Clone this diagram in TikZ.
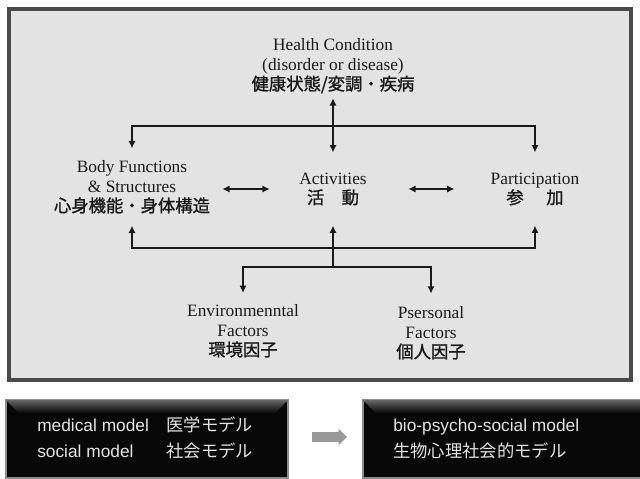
\documentclass[tikz,border=0pt]{standalone}
\usepackage{fontspec}
\setmainfont{Liberation Serif}
\newfontfamily\cjk[FakeBold=1.2]{Noto Sans CJK JP}
\newfontfamily\cjkui{Noto Sans CJK JP}
\newfontfamily\uisans{Liberation Sans}
\usetikzlibrary{arrows.meta,shapes.arrows}
\definecolor{panel}{HTML}{E3E3E3}
\definecolor{frame}{HTML}{4A4A4A}
\definecolor{ink}{HTML}{1A1A1A}
\definecolor{plate}{HTML}{080808}
\definecolor{platetext}{HTML}{E4E4E4}
\begin{document}
\begin{tikzpicture}[x=0.75pt,y=-0.75pt,
  lbl/.style={align=center, inner xsep=0pt, text=ink,
    font=\fontsize{13pt}{14.8pt}\selectfont},
  link/.style={draw=ink, line width=2pt,
    arrows={-Latex[length=5.5pt,width=5.5pt]}},
  both/.style={draw=ink, line width=2pt,
    arrows={Latex[length=5.5pt,width=5.5pt]-Latex[length=5.5pt,width=5.5pt]}},
  plate/.style={fill=plate, draw=black!45, line width=0.8pt},
  bevel/.style={top color=black!60, bottom color=plate},
  platelbl/.style={text=platetext, inner sep=0pt,
    font=\uisans\fontsize{13pt}{20pt}\selectfont},
]
\useasboundingbox (0,0) rectangle (640,479);
\clip (0,0) rectangle (640,479);
\fill[white] (0,0) rectangle (640,479);

% ICF panel
\draw[frame, line width=2.5pt, fill=panel] (9,9) rectangle (631,380);

\node[lbl, inner ysep=3.5pt] (hc) at (333,66)
  {Health Condition\\(disorder or disease)\\{\cjk 健康状態/変調・疾病}};
\node[lbl, inner ysep=9pt] (bf) at (132,187)
  {Body Functions\\\& Structures\\{\cjk 心身機能・身体構造}};
\node[lbl, inner ysep=15pt] (act) at (333,189)
  {Activities\\{\cjk 活\quad 動}};
\node[lbl, inner ysep=15pt] (par) at (535,189)
  {Participation\\{\cjk 参\hspace{1.3em}加}};
\node[lbl, inner ysep=8.5pt] (env) at (243,331)
  {Environmenntal\\Factors\\{\cjk 環境因子}};
\node[lbl, inner ysep=9.5pt] (per) at (431,333)
  {Psersonal\\Factors\\{\cjk 個人因子}};

% junctions of the bracket lines
\coordinate (topbar) at (333,126);
\coordinate (botbar) at (333,248);
\coordinate (fork) at (333,267);

\draw[both] (hc) -- (act);
\draw[link] (topbar) -| (bf.north);
\draw[link] (topbar) -| (par.north);
\draw[link] (botbar) -| (bf.south);
\draw[link] (botbar) -| (par.south);
\draw[link] (fork) -- (act.south);
\draw[link] (fork) -| (env.north);
\draw[link] (fork) -| (per.north);
\draw[both, shorten <=9pt, shorten >=22pt] (bf.east |- act) -- (act.west);
\draw[both, shorten <=31pt, shorten >=27pt] (act.east) -- (par.west);

% model plates with a bevelled top edge
\node[plate, minimum width=211.5pt, minimum height=58.5pt, inner sep=0pt]
  (old) at (147,439) {};
\shade[bevel] ([xshift=0.4pt,yshift=-0.4pt]old.north west)
  -- ([xshift=-0.4pt,yshift=-0.4pt]old.north east)
  -- ([xshift=-10pt,yshift=-10pt]old.north east)
  -- ([xshift=10pt,yshift=-10pt]old.north west) -- cycle;
\node[platelbl, anchor=west] (oldtxt) at (37,439)
  {\begin{tabular}{@{}l@{\hspace{13pt}}l@{}}
    medical model & {\cjkui 医学モデル}\\
    social model & {\cjkui 社会モデル}
   \end{tabular}};

\node[plate, minimum width=252.75pt, minimum height=58.5pt, inner sep=0pt]
  (new) at (531.5,439) {};
\shade[bevel] ([xshift=0.4pt,yshift=-0.4pt]new.north west)
  -- ([xshift=-0.4pt,yshift=-0.4pt]new.north east)
  -- ([xshift=-10pt,yshift=-10pt]new.north east)
  -- ([xshift=10pt,yshift=-10pt]new.north west) -- cycle;
\node[platelbl, anchor=west, align=left] (newtxt) at (393,439)
  {bio-psycho-social model\\{\cjkui 生物心理社会的モデル}};

\node[single arrow, fill=black!40, draw=none, minimum height=26pt,
  minimum width=12pt, single arrow head extend=2.5pt, inner xsep=0pt,
  inner ysep=3.5pt] (shift) at (327,437) {};
\end{tikzpicture}
\end{document}
